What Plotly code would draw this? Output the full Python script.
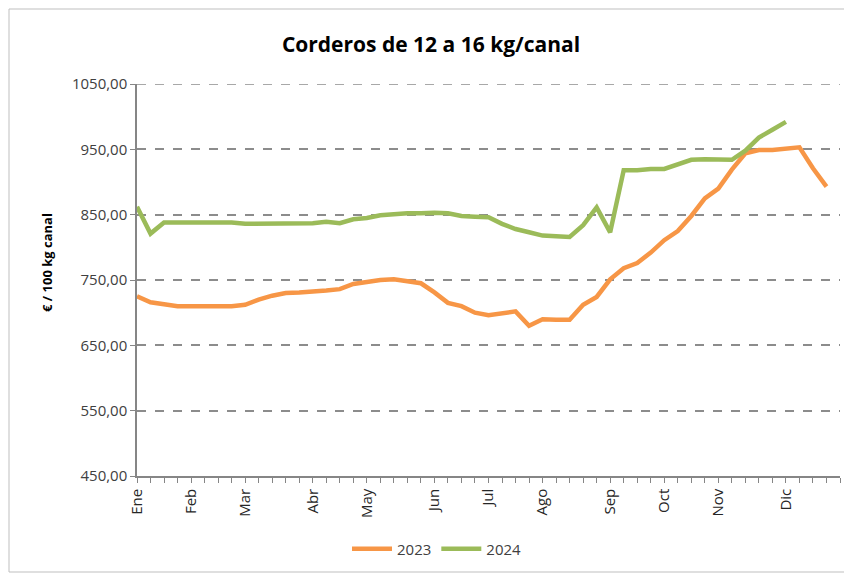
import plotly.graph_objects as go

# ---- data ----
weeks = list(range(53))
month_labels = ["Ene", "Feb", "Mar", "Abr", "May", "Jun", "Jul", "Ago", "Sep", "Oct", "Nov", "Dic"]
month_week_idx = [0, 4, 8, 13, 17, 22, 26, 30, 35, 39, 43, 48]

y2023 = [725, 716, 713, 710, 710, 710, 710, 710, 712, 720,
         726, 730, 731, 732, 734, 736, 744, 747, 750, 751,
         748, 745, 731, 715, 710, 700, 696, 699, 702, 680,
         690, 689, 689, 712, 724, 751, 768, 776, 792, 811,
         825, 848, 875, 890, 919, 944, 949, 949, 951, 953,
         921, 893]

y2024 = [862, 821, 838, 838, 838, 838, 838, 838, 836, 836,
         837, 837, 836, 837, 839, 837, 843, 845, 849, 851,
         852, 852, 853, 852, 848, 847, 846, 836, 828, 823,
         818, 817, 816, 834, 861, 823, 918, 918, 920, 920,
         927, 934, 935, 935, 934, 948, 968, 980, 992]

y_min, y_max, y_step = 450, 1050, 100

ticktext = [""] * len(weeks)
for lab, idx in zip(month_labels, month_week_idx):
    ticktext[idx] = lab

# page body has an 8px margin; figure placed at (8, 8)
OFF = 8
W, H = 852 - OFF, 574 - OFF
ml, mr, mt, mb = 137 - OFF, 12, 84 - OFF, 98
pw, ph = W - ml - mr, H - mt - mb


def px_x(x):  # screen px -> paper x
    return (x - OFF - ml) / pw


def px_y(y):  # screen px -> paper y
    return (ph - (y - OFF - mt)) / ph


fig = go.Figure()
fig.add_trace(go.Scatter(x=weeks[:len(y2023)], y=y2023, mode="lines", name="2023",
                         line=dict(color="#F79646", width=4.5)))
fig.add_trace(go.Scatter(x=weeks[:len(y2024)], y=y2024, mode="lines", name="2024",
                         line=dict(color="#9BBB59", width=4.5)))

font_family = "Open Sans"
fig.update_layout(
    width=W, height=H,
    margin=dict(l=ml, r=mr, t=mt, b=mb, autoexpand=False),
    paper_bgcolor="white", plot_bgcolor="white",
    separators=",.",
    title=dict(text="<b>Corderos de 12 a 16 kg/canal</b>", x=px_x(431), xref="paper",
               xanchor="center", y=1 - (45 - OFF) / H, yanchor="middle",
               font=dict(family=font_family, size=21, color="#000000")),
    font=dict(family=font_family, color="#262626"),
    showlegend=True,
    legend=dict(orientation="h", x=px_x(437), xanchor="center",
                y=px_y(549), yanchor="middle",
                font=dict(family=font_family, size=15, color="#404040"),
                bgcolor="rgba(0,0,0,0)", itemwidth=40),
    xaxis=dict(range=[0, 52], tickmode="array", tickvals=weeks, ticktext=ticktext,
               tickangle=-90, ticks="outside", ticklen=5, tickcolor="#868686",
               showline=True, linecolor="#868686", linewidth=1.5,
               showgrid=False, zeroline=False, automargin=False,
               tickfont=dict(family=font_family, size=15, color="#262626")),
    yaxis=dict(range=[y_min, y_max], tickmode="linear", tick0=y_min, dtick=y_step,
               tickformat=".2f", ticks="outside", ticklen=5, tickcolor="#868686",
               showline=True, linecolor="#868686", linewidth=1.5,
               showgrid=True, gridcolor="#8c8c8c", gridwidth=1.5, griddash="dash",
               zeroline=False, automargin=False,
               tickfont=dict(family=font_family, size=15, color="#404040")),
)

# y-axis title (placed like the original, slightly above centre)
fig.add_annotation(text="<b>€ / 100 kg canal</b>", xref="paper", yref="paper",
                   x=px_x(47), y=px_y(263), textangle=-90, showarrow=False,
                   xanchor="center", yanchor="middle",
                   font=dict(family=font_family, size=13, color="#000000"))

# top gridline (at the range edge)
fig.add_shape(type="line", xref="paper", yref="y", x0=0, x1=1, y0=y_max, y1=y_max,
              line=dict(color="#8c8c8c", width=1.5, dash="dash"), layer="below")

# outer chart border
fig.add_shape(type="rect", xref="paper", yref="paper",
              x0=px_x(OFF + 1), x1=px_x(851), y0=px_y(572), y1=px_y(OFF + 1),
              line=dict(color="#BFBFBF", width=1), fillcolor="rgba(0,0,0,0)", layer="below")

fig.write_html("out.html")
